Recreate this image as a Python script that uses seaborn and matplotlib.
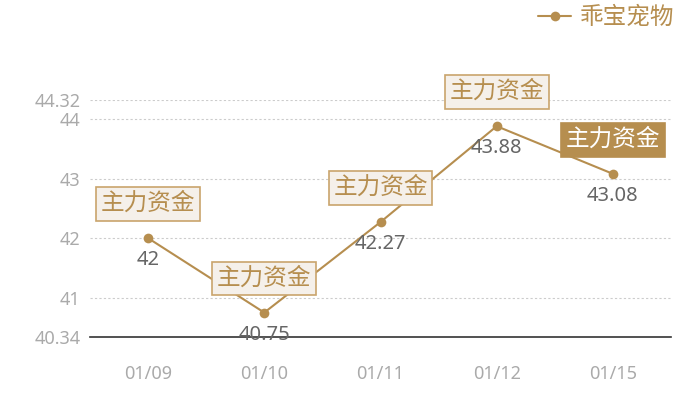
import matplotlib
matplotlib.use("Agg")
import matplotlib.pyplot as plt
import seaborn as sns
import pandas as pd

dates = ["01/09", "01/10", "01/11", "01/12", "01/15"]
values = [42, 40.75, 42.27, 43.88, 43.08]
series_name = "乖宝宠物"
tag_text = "主力资金"
y_ticks = [40.34, 41, 42, 43, 44, 44.32]
y_tick_labels = ["40.34", "41", "42", "43", "44", "44.32"]

sns.set_theme(style="white")
plt.rcParams['font.family'] = ['Noto Sans', 'Noto Sans CJK SC', 'DejaVu Sans']

gold = "#b68e4f"
df = pd.DataFrame({"date": dates, "value": values, "name": series_name})

fig = plt.figure(figsize=(7, 4), dpi=100)
ax = fig.add_axes([90/700, 1-337/400, 581/700, 237/400])

sns.lineplot(data=df, x="date", y="value", hue="name", palette=[gold], marker="o",
             markersize=7, markeredgewidth=0, linewidth=1.5, ax=ax, sort=False, zorder=3)

ax.set_xlim(-0.5, len(dates)-0.5)
ax.set_ylim(40.34, 44.32)
ax.set_yticks(y_ticks)
ax.set_yticklabels(y_tick_labels)
for t in [41, 42, 43, 44, 44.32]:
    ax.axhline(t, color="#cccccc", linewidth=0.8, linestyle=(0, (2, 2)), zorder=1)
for s in ["top", "right", "left"]:
    ax.spines[s].set_visible(False)
ax.spines["bottom"].set_color("#333333")
ax.spines["bottom"].set_linewidth(1.2)
ax.tick_params(axis="x", length=0, pad=20, labelsize=13, labelcolor="#aaaaaa")
ax.tick_params(axis="y", length=0, pad=7, labelsize=13, labelcolor="#aaaaaa")
ax.set_xlabel("")
ax.set_ylabel("")

for i, v in enumerate(values):
    ax.annotate(f"{v:g}", (i, v), xytext=(0, -22), textcoords="offset pixels",
                ha="center", va="center", fontsize=14.5, color="#666666", zorder=5)
    last = i == len(values) - 1
    ax.annotate(tag_text, (i, v), xytext=(0, 34), textcoords="offset pixels",
                ha="center", va="center", fontsize=17,
                color="white" if last else gold, zorder=6,
                bbox=dict(boxstyle="square,pad=0.2",
                          fc=gold if last else "#f5f0ea",
                          ec=gold if last else "#c9a46c", lw=1.2))

leg = ax.legend(loc="center right", bbox_to_anchor=(674/700, (400-18)/400), bbox_transform=fig.transFigure,
                frameon=False, fontsize=17, handlelength=1.4, handletextpad=0.35,
                borderaxespad=0, borderpad=0.0)
for t in leg.get_texts():
    t.set_color(gold)

fig.savefig("out.png", dpi=100)
